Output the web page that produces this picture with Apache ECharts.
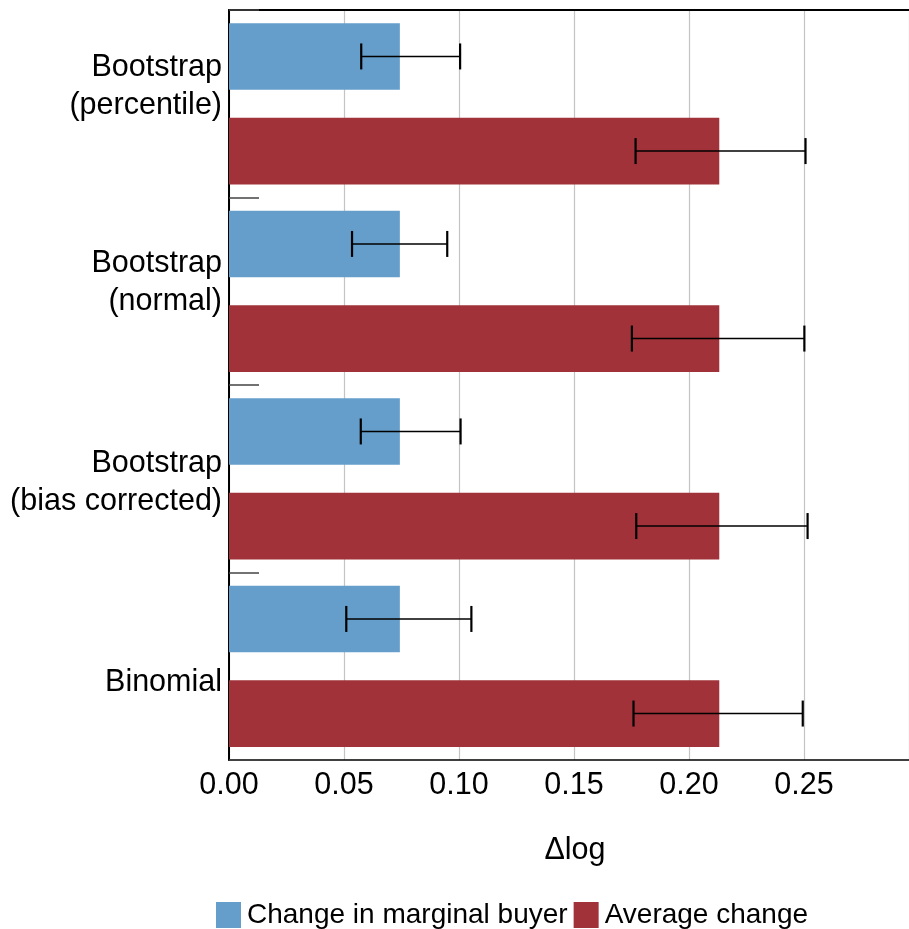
<!DOCTYPE html>
<html>
<head>
<meta charset="utf-8">
<script src="https://cdn.jsdelivr.net/npm/echarts@6/dist/echarts.min.js"></script>
<style>
  html, body { margin: 0; padding: 0; background: #fff; }
  #chart { width: 909px; height: 929px; }
</style>
</head>
<body>
<div id="chart"></div>
<script>
// Interval methods, top to bottom
const categories = ['Bootstrap\n(percentile)', 'Bootstrap\n(normal)', 'Bootstrap\n(bias corrected)', 'Binomial'];
// Point estimates (Δlog)
const marginalBuyer = [0.0743, 0.0743, 0.0743, 0.0743];
const averageChange = [0.2132, 0.2132, 0.2132, 0.2132];
// Confidence interval bounds
const marginalLow  = [0.0575, 0.0535, 0.0573, 0.0510];
const marginalHigh = [0.1005, 0.0949, 0.1007, 0.1054];
const averageLow   = [0.1768, 0.1752, 0.1771, 0.1759];
const averageHigh  = [0.2507, 0.2502, 0.2516, 0.2495];
// Value axis ticks
const xTicks = [0, 0.05, 0.10, 0.15, 0.20, 0.25];
const seriesNames = ['Change in marginal buyer', 'Average change'];

// Vertical nudges of the category labels (px, negative = up)
const labelShift = [-17, -9, 4, 16];

const FONT = "'Liberation Sans', Arial, sans-serif";
const FS = 30.5;
const BLUE = '#659eca';
const RED = '#a13239';
const CAT_GAP = 0.14;
const BAR_GAP = 0.42;

const chart = echarts.init(document.getElementById('chart'), null, { renderer: 'canvas' });

// Each label gets an invisible spacer line above or below it so the
// centred block lands where it should.
const rich = { t: { fontFamily: FONT, fontSize: FS, color: '#000', lineHeight: 38, align: 'right' } };
labelShift.forEach((s, i) => {
  rich['sp' + i] = { fontSize: 1, lineHeight: Math.max(1, Math.abs(2 * s)), color: 'rgba(0,0,0,0)' };
});

function labelFormatter(value, index) {
  const s = labelShift[index];
  const body = value.split('\n').map(l => '{t|' + l + '}').join('\n');
  if (!s) return body;
  const spacer = '{sp' + index + '| }';
  return s < 0 ? body + '\n' + spacer : spacer + '\n' + body;
}

function errorBarRenderer(seriesIdx) {
  return function (params, api) {
    const cat = api.value(0);
    const p1 = api.coord([api.value(1), cat]);
    const p2 = api.coord([api.value(2), cat]);
    const band = api.size([0, 1])[1];
    const barW = band * (1 - CAT_GAP) / (2 + BAR_GAP);
    const off = (BAR_GAP * barW / 2 + barW / 2) * (seriesIdx === 0 ? -1 : 1);
    const y = p1[1] + off;
    const cap = 13;
    const style = { stroke: '#000', lineWidth: 2.2 };
    return {
      type: 'group',
      children: [
        { type: 'line', shape: { x1: p1[0], y1: y, x2: p2[0], y2: y }, style: { stroke: '#000', lineWidth: 1.6 } },
        { type: 'line', shape: { x1: p1[0], y1: y - cap, x2: p1[0], y2: y + cap }, style },
        { type: 'line', shape: { x1: p2[0], y1: y - cap, x2: p2[0], y2: y + cap }, style }
      ]
    };
  };
}

const axisMax = 0.2957;

chart.setOption({
  animation: false,
  textStyle: { fontFamily: FONT },
  grid: { left: 229, top: 10, right: -2, bottom: 169, containLabel: false },
  legend: {
    data: seriesNames,
    left: 216,
    top: 901,
    padding: 0,
    icon: 'rect',
    itemWidth: 25,
    itemHeight: 26,
    itemGap: 6,
    textStyle: { fontFamily: FONT, fontSize: 28, color: '#000', padding: [0, 0, 0, 1] }
  },
  xAxis: [
    {
      type: 'value',
      min: 0,
      max: axisMax,
      interval: 0.05,
      position: 'bottom',
      name: 'Δlog',
      nameLocation: 'middle',
      nameGap: 75,
      nameTextStyle: { fontFamily: FONT, fontSize: FS, color: '#000', padding: [0, 0, 0, 12] },
      axisLine: { show: true, lineStyle: { color: '#000', width: 1.5 } },
      axisTick: { show: false },
      axisLabel: {
        fontFamily: FONT, fontSize: FS, color: '#000', margin: 10,
        showMaxLabel: false,
        formatter: v => (xTicks.some(t => Math.abs(t - v) < 1e-9) ? v.toFixed(2) : '')
      },
      splitLine: { show: true, lineStyle: { color: '#c4c4c4', width: 1.2 } }
    },
    {
      type: 'value',
      min: 0,
      max: axisMax,
      interval: 0.05,
      position: 'top',
      axisLine: { show: true, lineStyle: { color: '#000', width: 2 } },
      axisTick: { show: false },
      axisLabel: { show: false },
      splitLine: { show: false }
    }
  ],
  yAxis: {
    type: 'category',
    inverse: true,
    data: categories,
    axisLine: { show: true, lineStyle: { color: '#000', width: 2 } },
    axisTick: { show: true, inside: true, length: 30, lineStyle: { color: '#444', width: 1.5 } },
    axisLabel: { margin: 7, align: 'right', formatter: labelFormatter, rich: rich },
    splitLine: { show: false }
  },
  series: [
    {
      name: seriesNames[0],
      type: 'bar',
      data: marginalBuyer,
      barCategoryGap: (CAT_GAP * 100) + '%',
      barGap: (BAR_GAP * 100) + '%',
      itemStyle: { color: BLUE }
    },
    {
      name: seriesNames[1],
      type: 'bar',
      data: averageChange,
      barCategoryGap: (CAT_GAP * 100) + '%',
      barGap: (BAR_GAP * 100) + '%',
      itemStyle: { color: RED }
    },
    {
      type: 'custom',
      renderItem: errorBarRenderer(0),
      encode: { x: [1, 2], y: 0 },
      data: categories.map((c, i) => [i, marginalLow[i], marginalHigh[i]]),
      z: 5
    },
    {
      type: 'custom',
      renderItem: errorBarRenderer(1),
      encode: { x: [1, 2], y: 0 },
      data: categories.map((c, i) => [i, averageLow[i], averageHigh[i]]),
      z: 5
    }
  ]
});
</script>
</body>
</html>
